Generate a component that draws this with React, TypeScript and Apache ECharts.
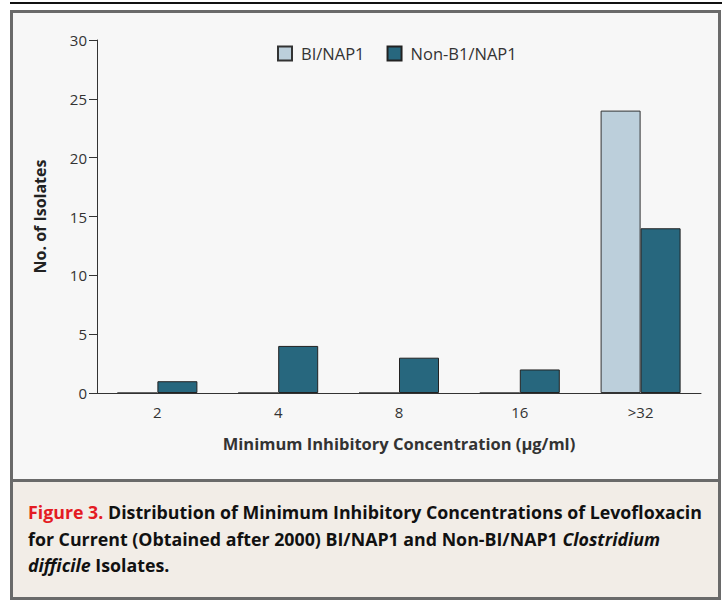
import React, { useEffect, useRef } from "react";
import * as echarts from "echarts";

const categories = ["2", "4", "8", "16", ">32"];
const biNap1 = [0, 0, 0, 0, 24];
const nonBiNap1 = [1, 4, 3, 2, 14];
const yTicks = { min: 0, max: 30, interval: 5 };

const FONT = "'Open Sans', 'Noto Sans', sans-serif";

export default function App() {
  const ref = useRef<HTMLDivElement>(null);
  useEffect(() => {
    document.body.style.margin = "0";
    const chart = echarts.init(ref.current!, null, { renderer: "svg" });
    const captionRich = {
      red: { fill: "#e41b23", fontWeight: "bold", fontSize: 17.8, fontFamily: FONT },
      b: { fill: "#111", fontWeight: "bold", fontSize: 17.8, fontFamily: FONT },
      i: { fill: "#111", fontWeight: "bold", fontStyle: "italic", fontSize: 17.8, fontFamily: FONT },
    };
    chart.setOption({
      animation: false,
      backgroundColor: "#ffffff",
      textStyle: { fontFamily: FONT },
      graphic: [
        { type: "line", shape: { x1: 10, y1: 3, x2: 722, y2: 3 }, style: { stroke: "#111", lineWidth: 2 }, z: -1 },
        { type: "rect", shape: { x: 13, y: 13, width: 706, height: 467 }, style: { fill: "#f7f7f7" }, z: -2 },
        { type: "rect", shape: { x: 13, y: 481, width: 706, height: 116 }, style: { fill: "#f2ede7" }, z: -2 },
        { type: "rect", shape: { x: 11.5, y: 11.5, width: 708, height: 587 }, style: { fill: "none", stroke: "#6a6a6a", lineWidth: 3 }, z: -1 },
        { type: "line", shape: { x1: 11, y1: 480.5, x2: 720, y2: 480.5 }, style: { stroke: "#6a6a6a", lineWidth: 3 }, z: -1 },
        {
          type: "text",
          left: 28,
          top: 499,
          style: {
            text:
              "{red|Figure 3.}{b| Distribution of Minimum Inhibitory Concentrations of Levofloxacin}\n" +
              "{b|for Current (Obtained after 2000) BI/NAP1 and Non-BI/NAP1 }{i|Clostridium}\n" +
              "{i|difficile}{b| Isolates.}",
            rich: captionRich,
            lineHeight: 26.5,
          },
        },
      ],
      legend: {
        left: 272,
        top: 40,
        itemWidth: 14,
        itemHeight: 14,
        itemGap: 22,
        icon: "rect",
        textStyle: { fontSize: 16.5, color: "#333", fontFamily: FONT, padding: [0, 0, 0, 4] },
        data: ["BI/NAP1", "Non-B1/NAP1"],
      },
      grid: { left: 97, right: 21, top: 40, bottom: 207 },
      xAxis: {
        type: "category",
        data: categories,
        name: "Minimum Inhibitory Concentration (\u03bcg/ml)",
        nameLocation: "middle",
        nameGap: 42,
        nameTextStyle: { fontSize: 16.5, fontWeight: "bold", color: "#333", fontFamily: FONT },
        axisLine: { lineStyle: { color: "#333", width: 1 } },
        axisTick: { alignWithLabel: true, length: 7, lineStyle: { color: "#333" } },
        axisLabel: { fontSize: 15, color: "#333", margin: 11, fontFamily: FONT },
      },
      yAxis: {
        type: "value",
        min: yTicks.min,
        max: yTicks.max,
        interval: yTicks.interval,
        name: "No. of Isolates",
        nameLocation: "middle",
        nameGap: 49,
        nameTextStyle: { fontSize: 16, fontWeight: "bold", color: "#222", fontFamily: FONT },
        axisLine: { show: true, lineStyle: { color: "#333", width: 1 } },
        axisTick: { show: true, length: 8, lineStyle: { color: "#333" } },
        axisLabel: { fontSize: 15, color: "#333", margin: 10, fontFamily: FONT },
        splitLine: { show: false },
      },
      series: [
        {
          name: "BI/NAP1",
          type: "bar",
          data: biNap1,
          barWidth: 40,
          barGap: "0%",
          itemStyle: { color: "#bccfdb", borderColor: "#333", borderWidth: 1 },
        },
        {
          name: "Non-B1/NAP1",
          type: "bar",
          data: nonBiNap1,
          barWidth: 40,
          barGap: "0%",
          itemStyle: { color: "#27677e", borderColor: "#222", borderWidth: 1 },
        },
      ],
    });
    return () => chart.dispose();
  }, []);
  return <div ref={ref} style={{ width: 722, height: 600 }} />;
}
